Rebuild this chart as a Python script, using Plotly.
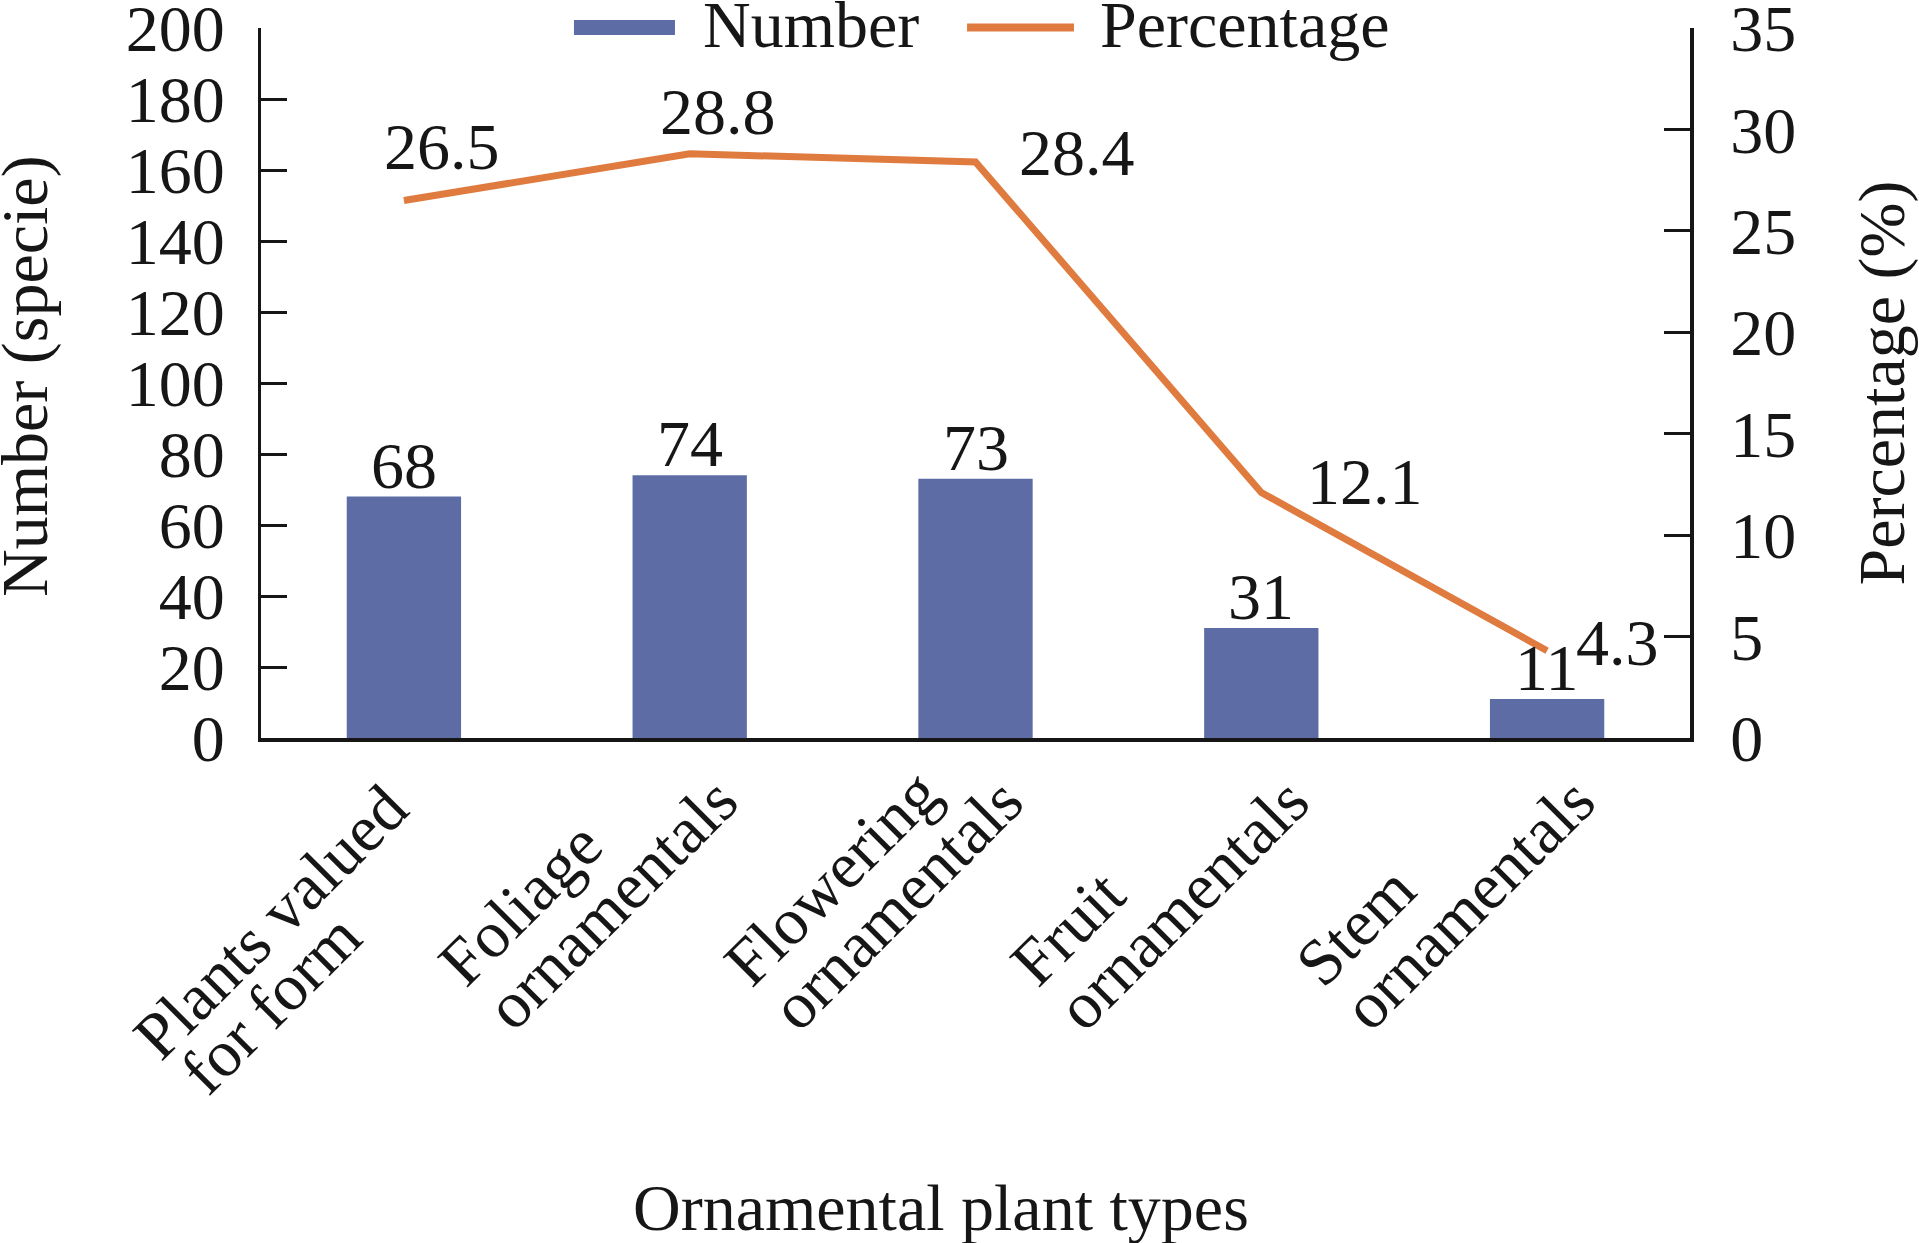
import plotly.graph_objects as go

# ---------------- data ----------------
categories = ["Plants valued for form", "Foliage ornamentals", "Flowering ornamentals",
              "Fruit ornamentals", "Stem ornamentals"]
label_lines = [["Plants valued", "for form"], ["Foliage", "ornamentals"],
               ["Flowering", "ornamentals"], ["Fruit", "ornamentals"], ["Stem", "ornamentals"]]
numbers = [68, 74, 73, 31, 11]
percentages = [26.5, 28.8, 28.4, 12.1, 4.3]
left_ticks = [0, 20, 40, 60, 80, 100, 120, 140, 160, 180, 200]
right_ticks = [0, 5, 10, 15, 20, 25, 30, 35]

# ---------------- style ----------------
FONT = "Liberation Serif, Times New Roman, serif"
FS = 66
TXT = "#161616"
BAR = "#5e6ca6"
LINE = "#e07b3f"

# percentage label offsets (px, relative to point)
pct_label_shift = [(38, 54), (28, 42), (101, 9), (104, 11), (70, 8)]
# x label baseline-start offsets (px) relative to (category centre, axis line): per label, per line
lab_pattern_a = [(-243, 324), (-196, 360)]
lab_pattern_b = [(-224, 251), (-177, 295)]
label_baseline_offsets = [lab_pattern_a, lab_pattern_b, lab_pattern_b, lab_pattern_b, lab_pattern_b]

fig = go.Figure()
fig.add_trace(go.Bar(
    x=categories, y=numbers, name="Number", marker=dict(color=BAR, line=dict(width=0)),
    showlegend=False, yaxis="y"))
fig.add_trace(go.Scatter(
    x=categories, y=percentages, name="Percentage", mode="lines",
    line=dict(color=LINE, width=7), yaxis="y2", showlegend=False, cliponaxis=False))

annotations = []
# bar value labels
for c, n in zip(categories, numbers):
    annotations.append(dict(x=c, y=n, xref="x", yref="y", text=str(n), showarrow=False,
                            xanchor="center", yanchor="bottom", yshift=-5,
                            font=dict(family=FONT, size=FS, color=TXT),
                            borderpad=0, borderwidth=0))
# percentage labels
for c, p, (dx, dy) in zip(categories, percentages, pct_label_shift):
    annotations.append(dict(x=c, y=p, xref="x", yref="y2", text=f"{p}", showarrow=False,
                            xanchor="center", yanchor="middle", xshift=dx, yshift=dy,
                            font=dict(family=FONT, size=FS, color=TXT),
                            borderpad=0, borderwidth=0))
# category labels (rotated, left-aligned lines)
A = 0.891 * FS * 0.7071
D = 0.216 * FS * 0.7071
for c, lines, offs in zip(categories, label_lines, label_baseline_offsets):
    for line, (bx, by) in zip(lines, offs):
        annotations.append(dict(x=c, y=0, xref="x", yref="paper", text=line, showarrow=False,
                                textangle=-45, xanchor="left", yanchor="bottom",
                                xshift=bx - A, yshift=-(by + D),
                                font=dict(family=FONT, size=FS, color=TXT),
                                borderpad=0, borderwidth=0))
# axis titles
annotations.append(dict(x=0.5, y=0, xref="paper", yref="paper", text="Ornamental plant types",
                        showarrow=False, xanchor="center", yanchor="middle", xshift=-35,
                        yshift=-469, font=dict(family=FONT, size=FS, color=TXT),
                        borderpad=0, borderwidth=0))
annotations.append(dict(x=0, y=0.5, xref="paper", yref="paper", text="Number (specie)",
                        showarrow=False, textangle=-90, xanchor="right", yanchor="middle",
                        xshift=-199, yshift=7, font=dict(family=FONT, size=FS, color=TXT),
                        borderpad=0, borderwidth=0))
# legend texts
annotations.append(dict(x=0.3093, y=1.0046, xref="paper", yref="paper", text="Number",
                        showarrow=False, xanchor="left", yanchor="middle",
                        font=dict(family=FONT, size=FS, color=TXT), borderpad=0, borderwidth=0))
annotations.append(dict(x=0.5871, y=1.0046, xref="paper", yref="paper", text="Percentage",
                        showarrow=False, xanchor="left", yanchor="middle",
                        font=dict(family=FONT, size=FS, color=TXT), borderpad=0, borderwidth=0))

shapes = [
    dict(type="rect", xref="paper", yref="paper", x0=0.2190, x1=0.2897, y0=0.9901, y1=1.0113,
         fillcolor=BAR, line=dict(width=0)),
    dict(type="line", xref="paper", yref="paper", x0=0.4941, x1=0.5689, y0=1.0007, y1=1.0007,
         line=dict(color=LINE, width=8)),
]

fig.update_layout(
    width=1919, height=1243,
    margin=dict(l=261, r=229, t=28, b=505, autoexpand=False),
    paper_bgcolor="white", plot_bgcolor="white",
    font=dict(family=FONT, size=FS, color=TXT),
    bargap=0.6,
    showlegend=False,
    hovermode=False,
    annotations=annotations,
    shapes=shapes,
    xaxis=dict(type="category", range=[-0.5, len(categories) - 0.5], autorange=False,
               showticklabels=False, ticks="", showline=True, linecolor=TXT, linewidth=4,
               showgrid=False, zeroline=False, fixedrange=True),
    yaxis=dict(range=[0, 200], autorange=False, tickvals=left_ticks, ticks="inside",
               ticklen=26, tickwidth=3, tickcolor=TXT, showline=True, linecolor=TXT,
               linewidth=3, showgrid=False, zeroline=False, ticklabelstandoff=20,
               ticklabeloverflow="allow",
               tickfont=dict(family=FONT, size=FS, color=TXT)),
    yaxis2=dict(range=[0, 35], autorange=False, tickvals=right_ticks, overlaying="y",
                side="right", ticks="inside", ticklen=26, tickwidth=3, tickcolor=TXT,
                showline=True, linecolor=TXT, linewidth=4, showgrid=False, zeroline=False,
                ticklabelstandoff=23, ticklabeloverflow="allow",
                tickfont=dict(family=FONT, size=FS, color=TXT),
                title=dict(text="Percentage (%)", standoff=82,
                           font=dict(family=FONT, size=FS, color=TXT))),
)

fig.write_html(
    "out.html",
    config={"displayModeBar": False, "staticPlot": True},
    post_script="document.documentElement.style.margin='0';"
                "document.body.style.margin='0';"
                "document.body.style.overflow='hidden';",
)
